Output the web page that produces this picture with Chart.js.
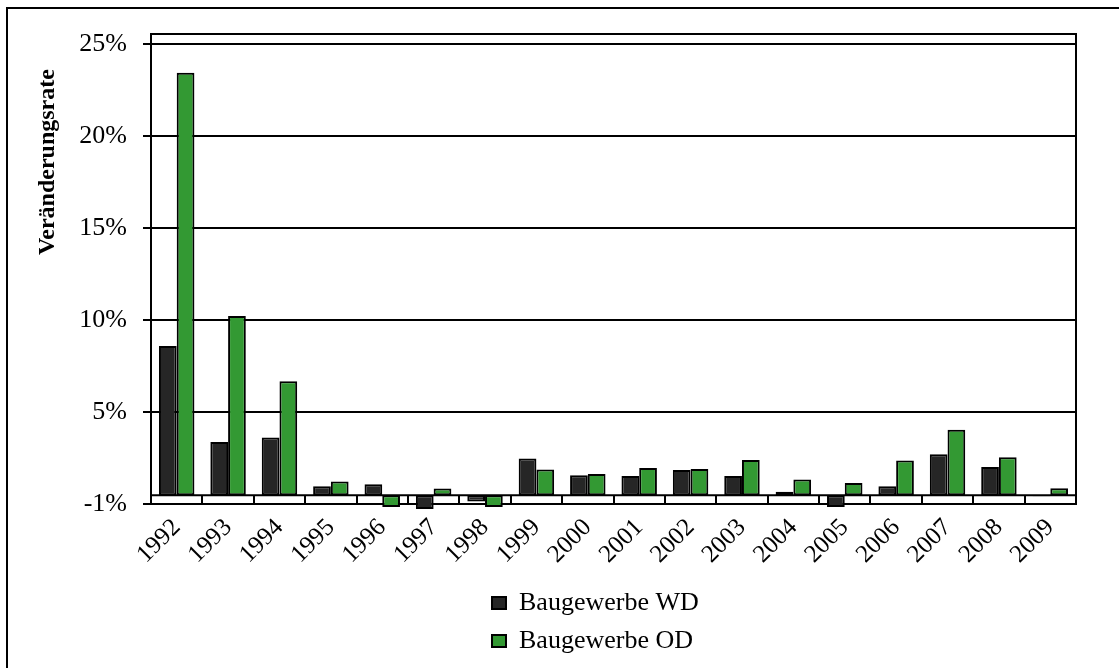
<!DOCTYPE html>
<html>
<head>
<meta charset="utf-8">
<script src="https://cdn.jsdelivr.net/npm/chart.js@4.4.1/dist/chart.umd.min.js"></script>
<style>
  html, body { margin: 0; padding: 0; background: #fff; }
  #wrap { width: 1119px; height: 668px; }
</style>
</head>
<body>
<div id="wrap"><canvas id="grafico" width="1119" height="668"></canvas></div>
<script>
const jahre = ['1992', '1993', '1994', '1995', '1996', '1997', '1998', '1999', '2000',
  '2001', '2002', '2003', '2004', '2005', '2006', '2007', '2008', '2009'];
const baugewerbeWD = [8.59, 3.37, 3.62, 0.96, 1.07, -0.27, 0.13, 2.47, 1.56,
  1.52, 1.85, 1.52, 0.67, -0.16, 0.96, 2.70, 2.01, 0.42];
const baugewerbeOD = [23.45, 10.22, 6.67, 1.22, -0.16, 0.84, -0.16, 1.87, 1.63,
  1.96, 1.90, 2.39, 1.33, 1.14, 2.36, 4.04, 2.54, 0.85];
const yTickWerte = [0, 5, 10, 15, 20, 25];
const yTickLabels = ['-1%', '5%', '10%', '15%', '20%', '25%'];
const nullLinie = 0.47; // Lage der Kategorienachse

Chart.defaults.font.family = '"Liberation Serif", "Times New Roman", serif';
Chart.defaults.color = '#000';

// Rahmen, Kategorienachse mit Teilstrichen, Achsentitel
const rahmen = {
  id: 'rahmen',
  beforeDraw(chart) {
    const ctx = chart.ctx;
    ctx.save();
    ctx.fillStyle = '#fff';
    ctx.fillRect(0, 0, chart.width, chart.height);
    ctx.strokeStyle = '#000';
    ctx.lineWidth = 2;
    ctx.strokeRect(7, 8, 1200, 700);
    ctx.restore();
  },
  beforeDatasetsDraw(chart) {
    const {ctx, chartArea: a, scales: {x, y}} = chart;
    ctx.save();
    ctx.strokeStyle = '#000';
    ctx.lineWidth = 2;
    ctx.strokeRect(a.left, a.top, a.right - a.left, a.bottom - a.top);
    const y0 = y.getPixelForValue(nullLinie);
    ctx.beginPath();
    ctx.moveTo(a.left, y0);
    ctx.lineTo(a.right, y0);
    for (let i = 1; i < jahre.length; i++) {
      const px = Math.round((x.getPixelForValue(i - 1) + x.getPixelForValue(i)) / 2);
      ctx.moveTo(px, y0);
      ctx.lineTo(px, a.bottom);
    }
    ctx.stroke();
    ctx.restore();
  },
  afterDraw(chart) {
    const ctx = chart.ctx;
    ctx.save();
    ctx.translate(48, 162);
    ctx.rotate(-Math.PI / 2);
    ctx.font = 'bold 24px "Liberation Serif", "Times New Roman", serif';
    ctx.fillStyle = '#000';
    ctx.textAlign = 'center';
    ctx.textBaseline = 'middle';
    ctx.fillText('Veränderungsrate', 0, 0);
    ctx.restore();
  },
  afterLayout(chart) {
    const lg = chart.legend;
    lg.left = 480;
    lg.right = lg.left + lg.width;
    lg.top = 578;
    lg.bottom = 668;
  }
};

const ctx = document.getElementById('grafico').getContext('2d');
new Chart(ctx, {
  type: 'bar',
  data: {
    labels: jahre,
    datasets: [
      {
        label: 'Baugewerbe WD',
        data: baugewerbeWD,
        backgroundColor: '#262626',
        borderColor: '#000',
        borderWidth: 2,
        borderSkipped: false,
        base: nullLinie,
        clip: false,
        categoryPercentage: 0.69,
        barPercentage: 1
      },
      {
        label: 'Baugewerbe OD',
        data: baugewerbeOD,
        backgroundColor: '#339933',
        borderColor: '#000',
        borderWidth: 2,
        borderSkipped: false,
        base: nullLinie,
        clip: false,
        categoryPercentage: 0.69,
        barPercentage: 1
      }
    ]
  },
  options: {
    responsive: false,
    animation: false,
    devicePixelRatio: 1,
    layout: { padding: { top: 34, right: 43, bottom: 0, left: 0 } },
    plugins: {
      tooltip: { enabled: false },
      legend: {
        position: 'chartArea',
        align: 'start',
        labels: {
          boxWidth: 14,
          boxHeight: 12,
          padding: 12,
          color: '#000',
          font: { size: 26 }
        }
      }
    },
    scales: {
      x: {
        grid: { display: false, drawTicks: false },
        border: { display: false },
        ticks: {
          minRotation: 45,
          maxRotation: 45,
          autoSkip: false,
          padding: 9,
          font: { size: 25 }
        },
        afterFit: s => { s.height = 164; }
      },
      y: {
        min: 0,
        max: 25.55,
        afterBuildTicks: s => { s.ticks = yTickWerte.map(v => ({ value: v })); },
        afterFit: s => { s.width = 151; },
        grid: { color: '#000', lineWidth: 2, tickLength: 8 },
        border: { display: false },
        ticks: {
          padding: 16,
          font: { size: 26 },
          callback: (v, i) => yTickLabels[i]
        }
      }
    }
  },
  plugins: [rahmen]
});
</script>
</body>
</html>
